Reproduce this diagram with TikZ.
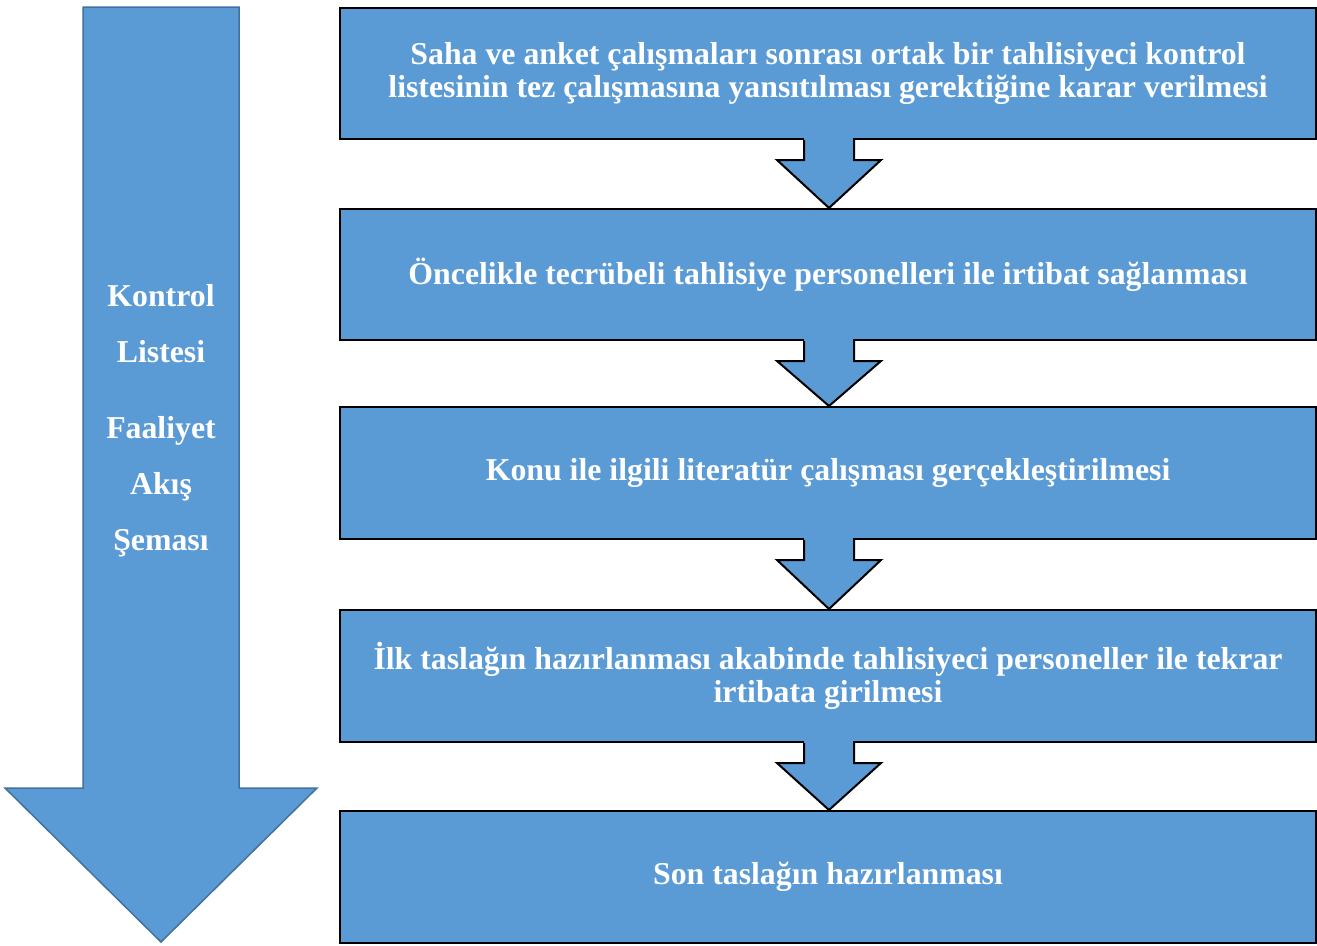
\documentclass[tikz,border=0pt]{standalone}
\usepackage{fontspec}
\setmainfont{Liberation Serif}
\usetikzlibrary{calc}
\definecolor{boxblue}{HTML}{5B9BD5}
\definecolor{edgeblue}{HTML}{41719C}
\begin{document}
\begin{tikzpicture}[x=1pt,y=-1pt,
  stepbox/.style={draw=black, line width=2pt, fill=boxblue, minimum width=976pt,
    minimum height=131pt, anchor=north west, inner sep=0pt, text=white,
    font=\fontsize{31.8}{33}\selectfont\bfseries, align=center},
  flowarrow/.style={draw=black, line width=2pt, fill=boxblue, line join=miter},
  bigarrow/.style={draw=edgeblue, line width=1.5pt, fill=boxblue, line join=miter},
  sidetext/.style={text=white, font=\fontsize{31.8}{56}\selectfont\bfseries, align=center, inner sep=0pt}]
\useasboundingbox (0,0) rectangle (1317,945);
% big arrow
\path[bigarrow] (83,7) -- (239,7) -- (239,788) -- (317,788) -- (161,942) -- (5,788) -- (83,788) -- cycle;
\node[sidetext] (side) at (161,421) {Kontrol\\Listesi\\[20pt]Faaliyet\\Akış\\Şeması};
% boxes
\node[stepbox] (b1) at (339,7) {Saha ve anket çalışmaları sonrası ortak bir tahlisiyeci kontrol\\listesinin tez çalışmasına yansıtılması gerektiğine karar verilmesi};
\node[stepbox] (b2) at (339,208) {Öncelikle tecrübeli tahlisiye personelleri ile irtibat sağlanması};
\node[stepbox, minimum height=132pt] (b3) at (339,406) {Konu ile ilgili literatür çalışması gerçekleştirilmesi};
\node[stepbox, minimum height=132pt] (b4) at (339,609) {İlk taslağın hazırlanması akabinde tahlisiyeci personeller ile tekrar\\irtibata girilmesi};
\node[stepbox, minimum height=132pt] (b5) at (339,810) {Son taslağın hazırlanması};
% connectors
\foreach \a/\b in {b1/b2,b2/b3,b3/b4,b4/b5}{
  \fill[boxblue] ($(\a.south)+(-24,-2)$) rectangle ($(\a.south)+(25,21)$);
  \draw[flowarrow] ($(\a.south)+(-24,0)$) -- ($(\a.south)+(-24,20)$) -- ($(\a.south)+(-51,20)$)
    -- ($(\b.north)+(1,0)$) -- ($(\a.south)+(53,20)$) -- ($(\a.south)+(26,20)$) -- ($(\a.south)+(26,0)$);
}
\end{tikzpicture}
\end{document}
